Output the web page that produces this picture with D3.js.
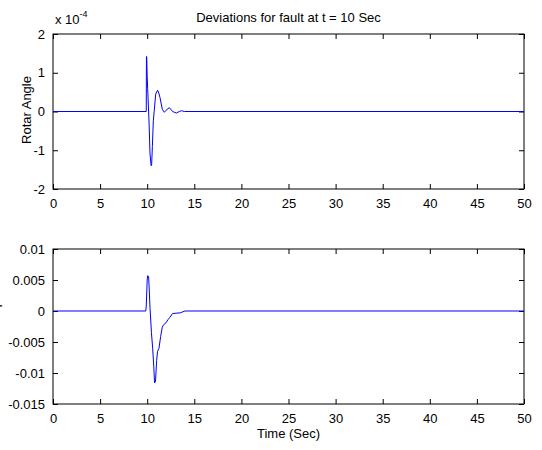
<!DOCTYPE html>
<html><head><meta charset="utf-8">
<script src="https://cdn.jsdelivr.net/npm/d3@7"></script>
<style>
html,body{margin:0;padding:0;background:#fff;}
text{font-family:"Liberation Sans",Arial,sans-serif;}
</style></head>
<body><svg id="c" width="542" height="450"></svg>
<script>
// Top panel: rotor angle deviation (units of 1e-4)
const timeTop = [0, 9.9, 9.92, 9.95, 10.0, 10.05, 10.2, 10.3, 10.42, 10.47, 10.55, 10.65, 10.75, 10.9, 11.1, 11.2, 11.36, 11.6, 11.82, 12.0, 12.35, 12.7, 13.1, 13.4, 13.65, 13.94, 50];
const angleTop = [0, 0, 1.42, 1.40, 0.9, 0.6, -0.3, -1.1, -1.40, -1.38, -0.9, -0.24, 0.02, 0.45, 0.55, 0.5, 0.36, 0.06, -0.02, 0.03, 0.10, 0.0, -0.04, 0.0, 0.02, 0, 0];
// Bottom panel: speed deviation
const timeBot = [0, 9.85, 9.9, 10.0, 10.05, 10.15, 10.2, 10.3, 10.45, 10.58, 10.7, 10.78, 10.88, 11.0, 11.1, 11.25, 11.43, 11.6, 11.75, 12.0, 12.2, 12.42, 12.7, 13.5, 14.0, 50];
const speedBot = [0, 0, 0.0008, 0.005, 0.0057, 0.0055, 0.004, 0.0005, -0.0035, -0.006, -0.009, -0.0116, -0.0114, -0.008, -0.0065, -0.006, -0.0041, -0.0026, -0.0022, -0.0019, -0.0014, -0.001, -0.0004, -0.0003, 0, 0];
const xTicks = [0, 5, 10, 15, 20, 25, 30, 35, 40, 45, 50];
const yTicksTop = [-2, -1, 0, 1, 2];
const yTickLabelsTop = ["-2", "-1", "0", "1", "2"];
const yTicksBot = [-0.015, -0.01, -0.005, 0, 0.005, 0.01];
const yTickLabelsBot = ["-0.015", "-0.01", "-0.005", "0", "0.005", "0.01"];

const svg = d3.select("#c");
const L = 53, R = 524;
const x = d3.scaleLinear().domain([0, 50]).range([L, R]);

function panel(top, bottom, ydom, yticks, ylabels, tdata, vdata) {
  const y = d3.scaleLinear().domain(ydom).range([bottom, top]);
  const g = svg.append("g");
  const fmt = (d, i) => ylabels[i];
  const tl = 5;
  const ax = (gen, tr) => g.append("g").attr("transform", tr).call(gen)
    .call(s => s.select(".domain").remove())
    .call(s => s.selectAll("line").attr("stroke", "#000"))
    .call(s => s.selectAll("text").attr("font-size", 13).attr("fill", "#000"));
  ax(d3.axisBottom(x).tickValues(xTicks).tickSize(-tl).tickPadding(10).tickFormat(d => String(d)), `translate(0,${bottom})`);
  ax(d3.axisTop(x).tickValues(xTicks).tickSize(-tl).tickFormat(""), `translate(0,${top})`);
  ax(d3.axisLeft(y).tickValues(yticks).tickSize(-tl).tickPadding(8).tickFormat(fmt), `translate(${L},0)`);
  ax(d3.axisRight(y).tickValues(yticks).tickSize(-tl).tickFormat(""), `translate(${R},0)`);
  g.append("rect").attr("x", L).attr("y", top).attr("width", R - L).attr("height", bottom - top)
    .attr("fill", "none").attr("stroke", "#000").attr("stroke-width", 1);
  const line = d3.line().x((d, i) => x(tdata[i])).y(d => y(d));
  g.append("path").datum(vdata).attr("d", line).attr("fill", "none").attr("stroke", "#0000ff").attr("stroke-width", 1);
  return y;
}

panel(34, 189, [-2, 2], yTicksTop, yTickLabelsTop, timeTop, angleTop);
panel(249, 404, [-0.015, 0.01], yTicksBot, yTickLabelsBot, timeBot, speedBot);

// title
svg.append("text").attr("x", 288.5).attr("y", 22).attr("text-anchor", "middle").attr("font-size", 13).text("Deviations for fault at t = 10 Sec");
// exponent label
const ex = svg.append("text").attr("x", 55).attr("y", 24).attr("font-size", 13);
ex.append("tspan").text("x 10");
ex.append("tspan").attr("font-size", 9).attr("dy", -7).text("-4");
// y label top
svg.append("text").attr("transform", "translate(31,110) rotate(-90)").attr("text-anchor", "middle").attr("font-size", 13).text("Rotar Angle");
// y label bottom (mostly cut off at the left edge, as in the reference)
svg.append("text").attr("transform", "translate(-1,316) rotate(-90)").attr("text-anchor", "start").attr("font-size", 13).text("Speed");
// x label
svg.append("text").attr("x", 288.5).attr("y", 438).attr("text-anchor", "middle").attr("font-size", 13).text("Time (Sec)");
</script></body></html>
